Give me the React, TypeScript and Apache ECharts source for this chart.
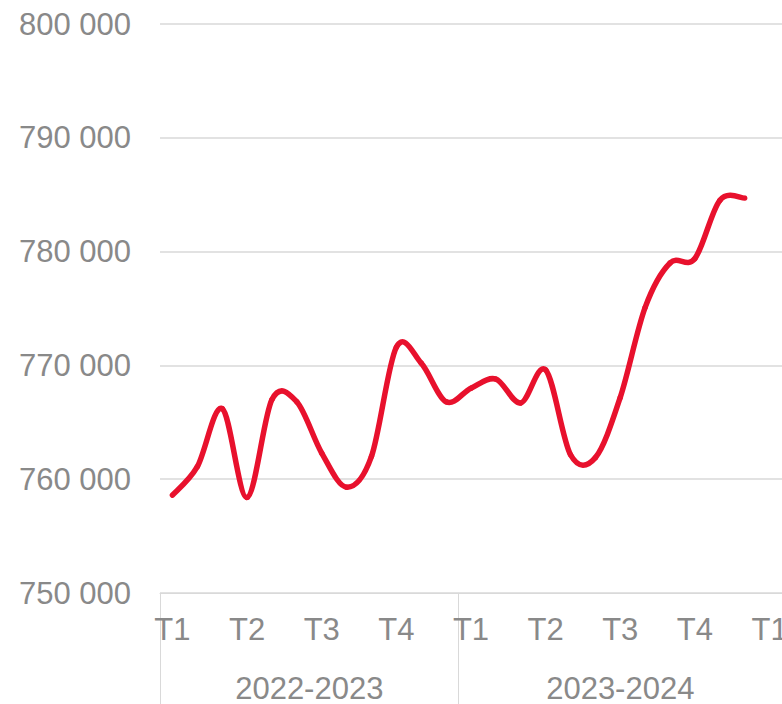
import React, { useEffect, useRef } from "react";
import * as echarts from "echarts";

const quarterLabels = ["T1", "T2", "T3", "T4"];
const yearLabels = ["2022-2023", "2023-2024"];
const yearBoundaries = [0, 12];
const yearCenters = [6, 18.5];
const monthCount = 25;
const values = [
  758600, 761100, 766200, 758400, 767000, 766800, 762300, 759300, 762000, 771600, 770200, 766800,
  768000, 768800, 766700, 769600, 762150, 761900, 767200, 775100, 779000, 779400, 784500, 784700,
];
const yMin = 750000;
const yMax = 800000;
const yStep = 10000;

const months = Array.from({ length: monthCount }, (_, i) => `m${i}`);

const fmt = (v: number) => {
  const s = String(Math.round(v));
  return s.replace(/\B(?=(\d{3})+(?!\d))/g, " ");
};

export default function App() {
  const ref = useRef<HTMLDivElement>(null);
  useEffect(() => {
    if (!ref.current) return;
    document.body.style.margin = "0";
    document.documentElement.style.overflow = "hidden";
    const chart = echarts.init(ref.current, undefined, { renderer: "svg", width: 782, height: 704 });
    const font = "Liberation Sans, Arial, sans-serif";
    const gray = "#898989";
    const lineGray = "#d9d9d9";
    const red = "#e8112d";
    const n = values.length;
    const clampIdx = (k: number) => Math.max(0, Math.min(n - 1, k));
    chart.setOption({
      animation: false,
      grid: { left: 160, right: 0, top: 24, bottom: 111, containLabel: false, outerBoundsMode: "none" },
      xAxis: [
        {
          type: "category",
          data: months,
          boundaryGap: true,
          axisLine: { show: true, lineStyle: { color: lineGray, width: 1 } },
          axisTick: { show: false },
          axisLabel: {
            interval: (i: number) => i % 3 === 0,
            formatter: (_v: string, i: number) => quarterLabels[Math.floor(i / 3) % 4],
            color: gray,
            fontFamily: font,
            fontSize: 31,
            margin: 21,
          },
          splitLine: { show: false },
        },
        {
          type: "value",
          min: 0,
          max: monthCount,
          position: "bottom",
          axisLine: { show: false },
          axisTick: {
            show: true,
            customValues: yearBoundaries,
            length: 112,
            lineStyle: { color: lineGray, width: 1 },
          },
          axisLabel: {
            customValues: yearCenters,
            formatter: (v: number) => yearLabels[yearCenters.indexOf(v)] ?? "",
            color: gray,
            fontFamily: font,
            fontSize: 31,
            lineHeight: 31,
            margin: 80,
          },
          splitLine: { show: false },
        },
      ],
      yAxis: {
        type: "value",
        min: yMin,
        max: yMax,
        interval: yStep,
        axisLine: { show: false },
        axisTick: { show: false },
        axisLabel: {
          formatter: (v: number) => fmt(v),
          color: gray,
          fontFamily: font,
          fontSize: 31,
          margin: 29,
        },
        splitLine: { show: true, lineStyle: { color: lineGray, width: 1.5 } },
      },
      series: [
        {
          type: "custom",
          xAxisIndex: 0,
          yAxisIndex: 0,
          data: values.map((v, i) => [i, v]),
          encode: { x: 0, y: 1 },
          clip: false,
          renderItem: (params: any, api: any) => {
            const i = params.dataIndex;
            if (i >= n - 1) return { type: "group", children: [] };
            const p = (k: number) => {
              const j = clampIdx(k);
              return api.coord([j, values[j]]);
            };
            const p0 = p(i - 1);
            const p1 = p(i);
            const p2 = p(i + 1);
            const p3 = p(i + 2);
            return {
              type: "bezierCurve",
              shape: {
                x1: p1[0],
                y1: p1[1],
                x2: p2[0],
                y2: p2[1],
                cpx1: p1[0] + (p2[0] - p0[0]) / 6,
                cpy1: p1[1] + (p2[1] - p0[1]) / 6,
                cpx2: p2[0] - (p3[0] - p1[0]) / 6,
                cpy2: p2[1] - (p3[1] - p1[1]) / 6,
              },
              style: { stroke: red, lineWidth: 5.5, fill: "none", lineCap: "round" },
            };
          },
        },
      ],
    });
    return () => chart.dispose();
  }, []);
  return (
    <div
      ref={ref}
      style={{ position: "fixed", left: 0, top: 0, width: 782, height: 704, background: "#fff" }}
    />
  );
}
